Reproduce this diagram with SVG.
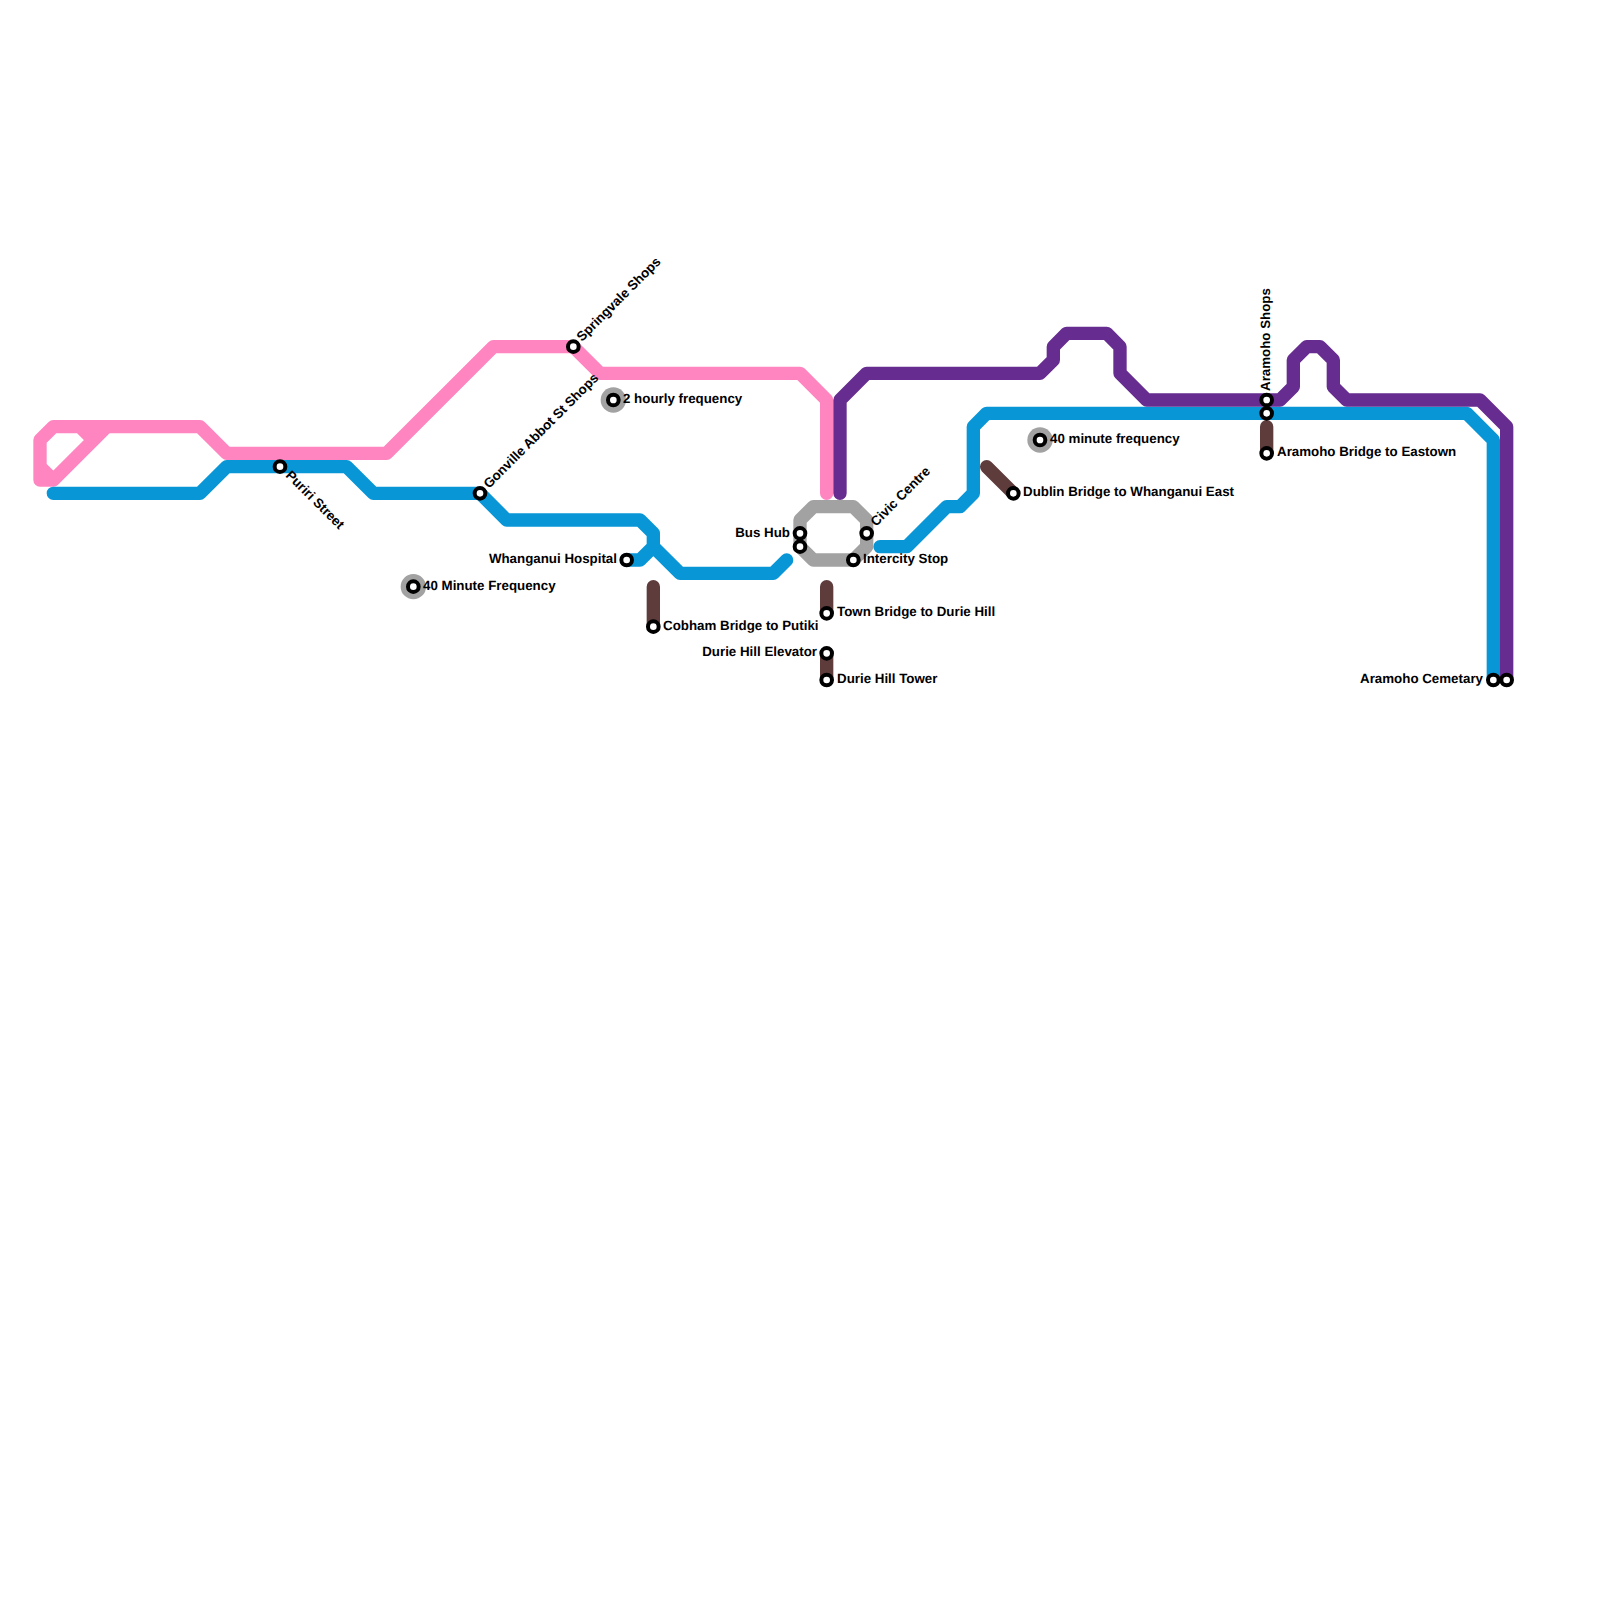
<svg xmlns="http://www.w3.org/2000/svg" width="1600" height="1600" viewBox="0 0 1600 1600">
<style>
.l{fill:none;stroke-width:1;stroke-linecap:round;stroke-linejoin:round}
.p{stroke:#ff85c0}.b{stroke:#0896d7}.u{stroke:#662c90}.g{stroke:#a2a2a2}.r{stroke:#5e3c3c}
.s{fill:#fff;stroke:#000;stroke-width:.3}
.h{fill:#a2a2a2}
text{font-family:"Liberation Sans",Arial,sans-serif;font-weight:700;font-size:13.33px;fill:#000;text-rendering:geometricPrecision}
.e{text-anchor:end}
</style>
<rect width="1600" height="1600" fill="#fff"/>
<g id="connectors" transform="scale(13.3333)">
<path class="l p" d="M4 36L3 35M3 33V36H4L8 32M6 32L7 33M3 33L4 32H15L17 34H29L37 26H43L45 28H60L62 30V37"/>
<path class="l b" d="M4 37H15L17 35H26L28 37H36L38 39H48L49 40V41L51 43H58L59 42M47 42H48L49 41"/>
<path class="l b" d="M66 41H68L71 38H72L73 37V32L74 31H110L112 33V51"/>
<path class="l u" d="M63 37V30L65 28H78L79 27V26L80 25H83L84 26V28L86 30H96L97 29V27L98 26H99L100 27V29L101 30H111L113 32V51"/>
<path class="l g" d="M60 39L61 38H64L65 39V41L64 42H61L60 41Z"/>
<path class="l r" d="M49 44V47M62 44V46M62 49V51M74 35L76 37M95 32V34"/>
</g>
<g id="stations" transform="scale(13.3333)">
<g id="halo"><circle class="h" cx="46" cy="30" r=".95"/><circle class="h" cx="31" cy="44" r=".95"/><circle class="h" cx="78" cy="33" r=".95"/></g>
<circle id="puriri" class="s" cx="21" cy="35" r=".4"/>
<circle id="gonville" class="s" cx="36" cy="37" r=".4"/>
<circle id="springvale" class="s" cx="43" cy="26" r=".4"/>
<circle id="hourly" class="s" cx="46" cy="30" r=".4"/>
<circle id="fortymin" class="s" cx="31" cy="44" r=".4"/>
<circle id="hospital" class="s" cx="47" cy="42" r=".4"/>
<circle id="cobham" class="s" cx="49" cy="47" r=".4"/>
<circle id="bushub" class="s" cx="60" cy="40" r=".4"/>
<circle id="bushub2" class="s" cx="60" cy="41" r=".4"/>
<circle id="civic" class="s" cx="65" cy="40" r=".4"/>
<circle id="intercity" class="s" cx="64" cy="42" r=".4"/>
<circle id="town" class="s" cx="62" cy="46" r=".4"/>
<circle id="elevator" class="s" cx="62" cy="49" r=".4"/>
<circle id="tower" class="s" cx="62" cy="51" r=".4"/>
<circle id="dublin" class="s" cx="76" cy="37" r=".4"/>
<circle id="fortyminb" class="s" cx="78" cy="33" r=".4"/>
<circle id="aramohoshops" class="s" cx="95" cy="30" r=".4"/>
<circle id="aramohoshops2" class="s" cx="95" cy="31" r=".4"/>
<circle id="aramohobridge" class="s" cx="95" cy="34" r=".4"/>
<circle id="cemetery" class="s" cx="112" cy="51" r=".4"/>
<circle id="cemetery2" class="s" cx="113" cy="51" r=".4"/>
</g>
<g id="labels">
<text transform="translate(285 476) rotate(45)">Puriri Street</text>
<text transform="translate(489 489) rotate(-45)">Gonville Abbot St Shops</text>
<text transform="translate(582 342) rotate(-45)">Springvale Shops</text>
<text x="623" y="403">2 hourly frequency</text>
<text x="423" y="590">40 Minute Frequency</text>
<text class="e" x="617" y="563">Whanganui Hospital</text>
<text x="663" y="630">Cobham Bridge to Putiki</text>
<text class="e" x="790" y="537">Bus Hub</text>
<text transform="translate(876 527) rotate(-45)">Civic Centre</text>
<text x="863" y="563">Intercity Stop</text>
<text x="837" y="616">Town Bridge to Durie Hill</text>
<text class="e" x="817" y="656">Durie Hill Elevator</text>
<text x="837" y="683">Durie Hill Tower</text>
<text x="1023" y="496">Dublin Bridge to Whanganui East</text>
<text x="1050" y="443">40 minute frequency</text>
<text transform="translate(1270 391) rotate(-90)">Aramoho Shops</text>
<text x="1277" y="456">Aramoho Bridge to Eastown</text>
<text class="e" x="1483" y="683">Aramoho Cemetary</text>
</g>
</svg>
